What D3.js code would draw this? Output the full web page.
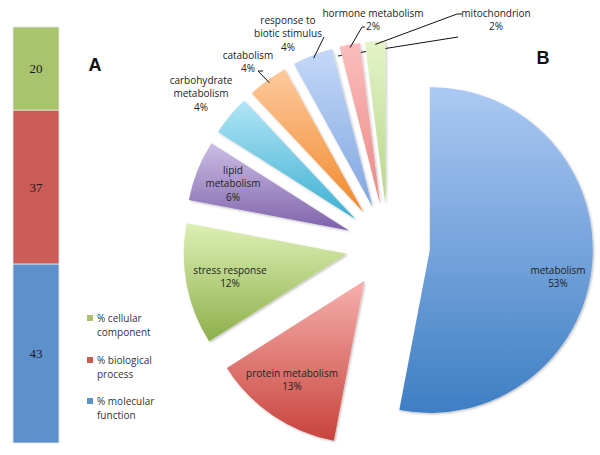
<!DOCTYPE html>
<html>
<head>
<meta charset="utf-8">
<script src="https://cdn.jsdelivr.net/npm/d3@7"></script>
<style>
  html, body { margin: 0; padding: 0; background: #fff; }
  svg { display: block; }
</style>
</head>
<body>
<svg id="chart" width="600" height="455"></svg>
<script>
// ---------- DATA ----------
const barCategories = ["% cellular component", "% biological process", "% molecular function"];
const barValues = [20, 37, 43];
const legendLines = [["% cellular", "component"], ["% biological", "process"], ["% molecular", "function"]];

const pieCategories = ["metabolism", "protein metabolism", "stress response", "lipid metabolism",
  "carbohydrate metabolism", "catabolism", "response to biotic stimulus", "hormone metabolism", "mitochondrion"];
const pieValues = [53, 13, 12, 6, 4, 4, 4, 2, 2];
const pieLabelLines = [["metabolism"], ["protein metabolism"], ["stress response"], ["lipid", "metabolism"],
  ["carbohydrate", "metabolism"], ["catabolism"], ["response to", "biotic stimulus"], ["hormone metabolism"], ["mitochondrion"]];

// ---------- STYLE / LAYOUT ----------
const barColors = ["#a8c46c", "#cc5c57", "#5e90cb"];
const sliceGrad = [
  ["#acc9f3", "#3e7ec4"],
  ["#f6b0ad", "#c8433c"],
  ["#ddf0b5", "#8daf4a"],
  ["#ccbee4", "#7e62ab"],
  ["#b2e5f6", "#3cb0d1"],
  ["#fdca9d", "#f1892c"],
  ["#c5d8f8", "#7fa6e0"],
  ["#fbbebc", "#e98985"],
  ["#e5f4c8", "#b5d588"]
];
const labelPos = [[558, 270], [292, 373], [230, 270], [233, 170], [201, 80], [248, 55], [288, 20], [373, 13], [496, 13]];
const leaderStart = [null, null, null, null, null, [[263, 71], [258, 71]], [[324, 37]], [[365, 27], [362, 27]], [[462, 14], [457, 14]]];

const svg = d3.select("#chart");
const defs = svg.append("defs");
const shadow = defs.append("filter").attr("id", "shadow").attr("x", "-20%").attr("y", "-20%").attr("width", "140%").attr("height", "140%");
shadow.append("feDropShadow").attr("dx", 1.2).attr("dy", 1.2).attr("stdDeviation", 1.3).attr("flood-color", "#000").attr("flood-opacity", 0.25);

const fontSans = "'Open Sans', 'Lucida Grande', sans-serif";

// ---------- BAR (A) ----------
// stacked from the top: first category at top
const yBar = d3.scaleLinear().domain([0, 100]).range([27, 443]);
const barX = 13, barW = 46;
let cum = 0;
const stacked = barValues.map((v, i) => { const s = { i, v, y0: cum, y1: cum + v }; cum += v; return s; });
const gBar = svg.append("g");
gBar.selectAll("rect").data(stacked).join("rect")
  .attr("x", barX).attr("width", barW)
  .attr("y", d => yBar(d.y0)).attr("height", d => yBar(d.y1) - yBar(d.y0))
  .attr("fill", d => barColors[d.i])
  .attr("stroke", "#e6e6e6").attr("stroke-width", 0.8);
gBar.selectAll("text").data(stacked).join("text")
  .attr("x", barX + barW / 2).attr("y", d => (yBar(d.y0) + yBar(d.y1)) / 2)
  .attr("dy", "0.35em").attr("text-anchor", "middle")
  .attr("font-family", "'Liberation Serif', 'Times New Roman', serif").attr("font-size", 13)
  .attr("fill", "#1a1a1a").text(d => d.v);

const legend = svg.append("g");
const legendTop = [318, 360, 401];
barCategories.forEach((c, i) => {
  legend.append("rect").attr("x", 87).attr("y", legendTop[i] - 3).attr("width", 6).attr("height", 6).attr("fill", barColors[i]);
  legendLines[i].forEach((ln, k) => {
    legend.append("text").attr("x", 97).attr("y", legendTop[i] + k * 14).attr("dy", "0.35em")
      .attr("font-family", fontSans).attr("font-size", 10).attr("fill", "#333").text(ln);
  });
});

svg.append("text").attr("x", 95).attr("y", 65).attr("dy", "0.35em").attr("text-anchor", "middle")
  .attr("font-family", "'Liberation Sans', Arial, sans-serif").attr("font-weight", "bold").attr("font-size", 18).attr("fill", "#111").text("A");
svg.append("text").attr("x", 543).attr("y", 58).attr("dy", "0.35em").attr("text-anchor", "middle")
  .attr("font-family", "'Liberation Sans', Arial, sans-serif").attr("font-weight", "bold").attr("font-size", 18).attr("fill", "#111").text("B");

// ---------- PIE (B) ----------
const cx = 388, cy = 246, R = 163, explode = 42;
const pie = d3.pie().sort(null).value(d => d).startAngle(0).endAngle(2 * Math.PI);
const arcs = pie(pieValues);
const arcGen = d3.arc().innerRadius(0).outerRadius(R);
const offset = a => { const m = (a.startAngle + a.endAngle) / 2; return [explode * Math.sin(m), -explode * Math.cos(m)]; };

const gPie = svg.append("g").attr("transform", `translate(${cx},${cy})`);

gPie.append("line").attr("x1", 458 - cx).attr("y1", 37 - cy).attr("x2", 338 - cx).attr("y2", 56 - cy)
  .attr("stroke", "#111").attr("stroke-width", 1);

arcs.forEach((a, i) => {
  const g = defs.append("linearGradient").attr("id", "g" + i).attr("x1", 0).attr("y1", 0).attr("x2", 0).attr("y2", 1);
  g.append("stop").attr("offset", "0%").attr("stop-color", sliceGrad[i][0]);
  g.append("stop").attr("offset", "100%").attr("stop-color", sliceGrad[i][1]);
});

gPie.selectAll("path.slice").data(arcs).join("path").attr("class", "slice")
  .attr("transform", d => { const o = offset(d); return `translate(${o[0]},${o[1]})`; })
  .attr("d", arcGen)
  .attr("fill", (d, i) => `url(#g${i})`)
  .attr("filter", "url(#shadow)");

arcs.forEach((a, i) => {
  if (!leaderStart[i]) return;
  const o = offset(a);
  const m = (a.startAngle + a.endAngle) / 2;
  const rr = R - 3;
  const end = [o[0] + rr * Math.sin(m), o[1] - rr * Math.cos(m)];
  const pts = leaderStart[i].map(p => [p[0] - cx, p[1] - cy]).concat([end]);
  gPie.append("path").attr("d", d3.line()(pts)).attr("fill", "none").attr("stroke", "#111").attr("stroke-width", 1);
});

arcs.forEach((a, i) => {
  const lines = pieLabelLines[i].concat([a.data + "%"]);
  const t = svg.append("text").attr("text-anchor", "middle")
    .attr("font-family", fontSans).attr("font-size", 10).attr("fill", "#222");
  lines.forEach((ln, k) => {
    t.append("tspan").attr("x", labelPos[i][0]).attr("y", labelPos[i][1] + k * 13.5).attr("dy", "0.35em").text(ln);
  });
});
</script>
</body>
</html>
